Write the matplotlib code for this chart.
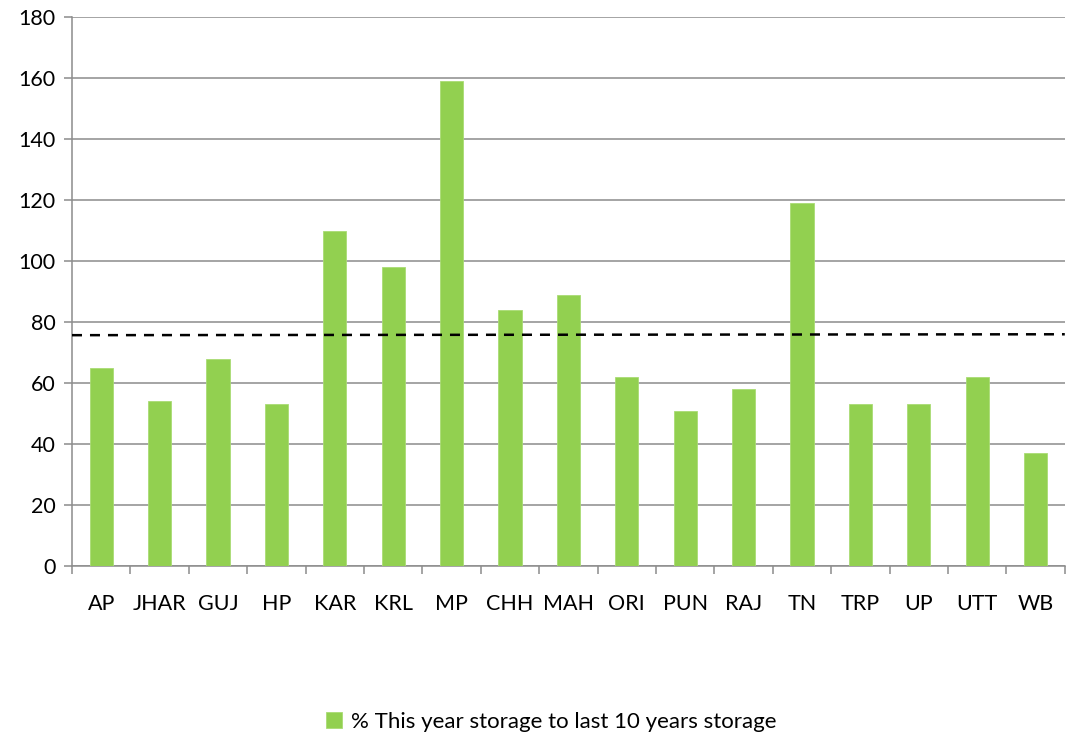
import numpy as np
import matplotlib
matplotlib.use("Agg")
import matplotlib.pyplot as plt

states = ["AP", "JHAR", "GUJ", "HP", "KAR", "KRL", "MP", "CHH", "MAH",
          "ORI", "PUN", "RAJ", "TN", "TRP", "UP", "UTT", "WB"]
storage_pct = [65, 54, 68, 53, 110, 98, 159, 84, 89,
               62, 51, 58, 119, 53, 53, 62, 37]
# dashed reference line, value at the left and right ends of the plot
ref_line = [75.7, 76.0]

plt.rcParams['font.family'] = ['Lato', 'DejaVu Sans']

fig = plt.figure(figsize=(10.68, 7.40), dpi=100)
ax = fig.add_axes([0.0674, 0.235, 0.9296, 0.742])

x = np.arange(len(states))
ax.bar(x, storage_pct, width=0.4, color="#92D050", edgecolor="#A9DC74",
       linewidth=0.6, zorder=3, label="% This year storage to last 10 years storage")

ax.plot([-0.5, len(states) - 0.5], ref_line, color="black", linestyle=(0, (4, 3.2)),
        linewidth=1.8, zorder=4)

ax.set_xlim(-0.5, len(states) - 0.5)
ax.set_ylim(0, 180)
ax.set_yticks(np.arange(0, 181, 20))
ax.yaxis.grid(True, color="#8c8c8c", linewidth=1.1, zorder=0)

ax.set_xticks(x)
ax.set_xticklabels(states)
ax.set_xticks(np.arange(-0.5, len(states), 1), minor=True)
ax.tick_params(axis="x", which="major", length=0, pad=20, labelsize=15.5)
ax.tick_params(axis="x", which="minor", length=6, width=1.1, color="#8c8c8c")
ax.tick_params(axis="y", length=6, width=1.1, color="#8c8c8c", pad=6, labelsize=15.5)

for side in ["top", "right"]:
    ax.spines[side].set_visible(False)
for side in ["left", "bottom"]:
    ax.spines[side].set_color("#8c8c8c")
    ax.spines[side].set_linewidth(1.1)

fig.legend(loc="center", bbox_to_anchor=(0.516, 1 - 722 / 740), frameon=False,
           fontsize=16, handlelength=0.75, handleheight=0.75, handletextpad=0.4)

fig.savefig("out.png", dpi=100)
